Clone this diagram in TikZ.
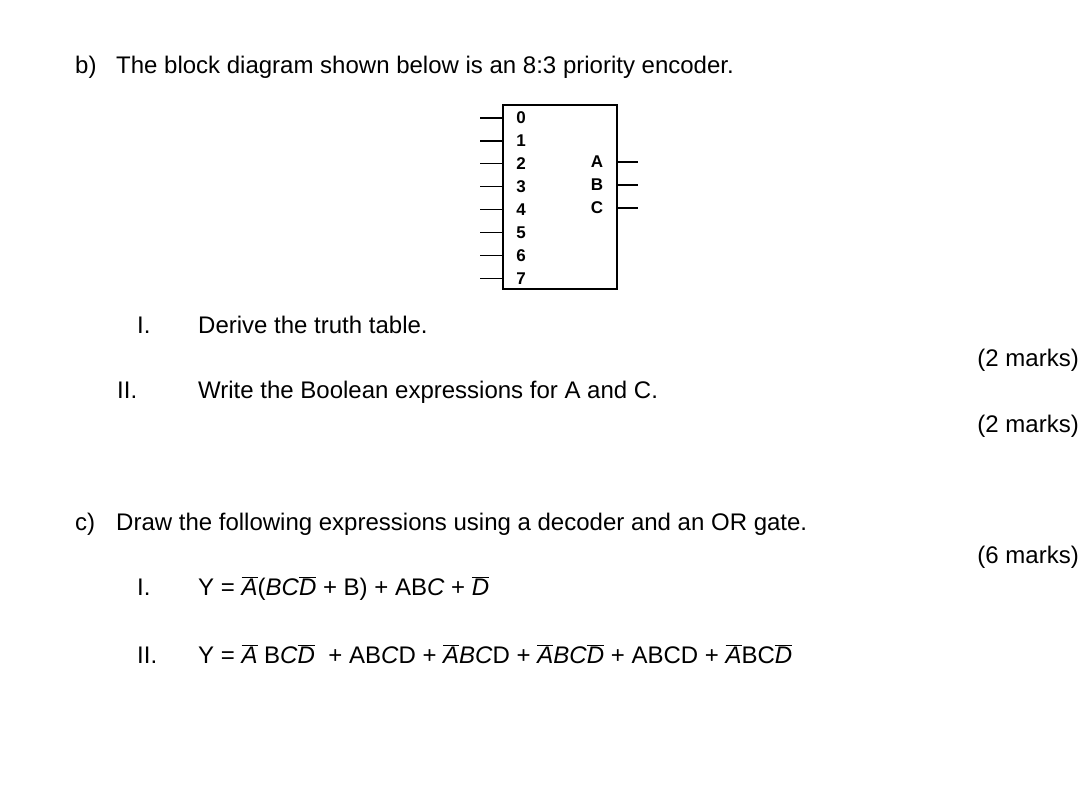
\documentclass[tikz,border=0pt]{standalone}
\usepackage{fontspec}
\setmainfont{Liberation Sans}
\newcommand{\ob}[1]{$\overline{\mbox{\textit{#1}}}$}
\newcommand{\itx}[1]{\textit{#1}}
\begin{document}
\begin{tikzpicture}[x=1pt,y=-1pt,
  txt/.style={anchor=base west,inner sep=0,font=\fontsize{24}{28}\selectfont},
  rt/.style={anchor=base east,inner sep=0,font=\fontsize{24}{28}\selectfont},
  pin/.style={font=\bfseries\fontsize{17}{18}\selectfont,inner sep=0},
  wire/.style={line width=1.3pt}]
\useasboundingbox (0,0) rectangle (1089,805);
\node[txt] (b) at (75,74) {b)};
\node[txt] (bt) at (116,74) {The block diagram shown below is an 8:3 priority encoder.};
\node[draw,line width=1.3pt,minimum width=114pt,minimum height=184pt,inner sep=0] (enc) at (560,197) {};
\foreach \i in {0,...,7}{
  \coordinate (in\i) at (480,{118+\i*22.9});
  \draw[wire] (in\i) -- (enc.west |- in\i);
  \node[pin] (p\i) at (521,{118+\i*22.9}) {\i};
}
\foreach \l/\y in {A/162,B/185,C/208}{
  \coordinate (o\l) at (638,\y);
  \draw[wire] (enc.east |- o\l) -- (o\l);
  \node[pin] (q\l) at (597,\y) {\l};
}
\node[txt] (r1) at (137,333) {I.};
\node[txt] (t1) at (198,333) {Derive the truth table.};
\node[rt] (m1) at (1079,366) {(2 marks)};
\node[txt] (r2) at (117,398) {II.};
\node[txt] (t2) at (198,398) {Write the Boolean expressions for A and C.};
\node[rt] (m2) at (1079,432) {(2 marks)};
\node[txt] (c) at (75,530) {c)};
\node[txt] (ct) at (116,530) {Draw the following expressions using a decoder and an OR gate.};
\node[rt] (m3) at (1079,563) {(6 marks)};
\node[txt] (r3) at (137,595) {I.};
\node[txt] (e1) at (198,595) {Y = \ob{A}(\itx{B}\itx{C}\ob{D} + B) + AB\itx{C} + \ob{D}};
\node[txt] (r4) at (137,663) {II.};
\node[txt] (e2) at (198,663) {Y = \ob{A} B\itx{C}\ob{D}\ \ + AB\itx{C}D + \ob{A}\itx{B}\itx{C}D + \ob{A}\itx{B}\itx{C}\ob{D} + ABCD + \ob{A}BC\ob{D}};
\end{tikzpicture}
\end{document}
